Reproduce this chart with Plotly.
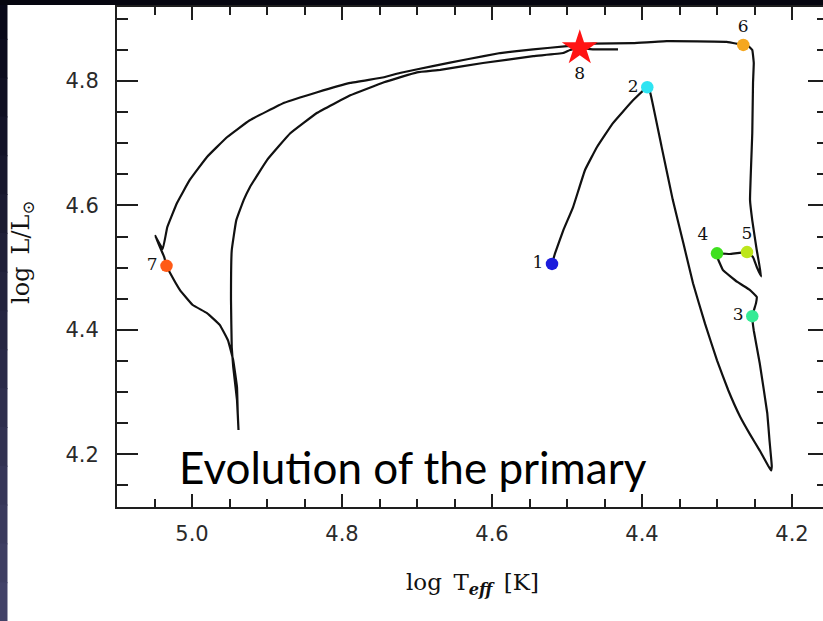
import plotly.graph_objects as go

# ---------------- data ----------------
track_logT = [
    4.520, 4.516, 4.505, 4.492, 4.476, 4.460, 4.439, 4.412, 4.393,
    4.389, 4.374, 4.359, 4.345, 4.332, 4.316, 4.300, 4.285, 4.269, 4.256, 4.243, 4.232, 4.228,
    4.227, 4.230, 4.233, 4.243, 4.251, 4.253,
    4.248, 4.247, 4.256, 4.273, 4.292, 4.299, 4.300,
    4.283, 4.260,
    4.252, 4.247, 4.241,
    4.247, 4.253, 4.256, 4.253, 4.252, 4.251, 4.253, 4.260, 4.265,
    4.287, 4.367, 4.412, 4.465, 4.500, 4.545, 4.589, 4.633, 4.679, 4.723,
    4.744, 4.789, 4.833, 4.877, 4.923, 4.953, 4.980, 5.003, 5.020, 5.033,
    5.039, 5.049, 5.037, 5.034,
    5.029, 5.016, 4.999, 4.980, 4.963, 4.952, 4.945, 4.940, 4.939, 4.938,
    4.940, 4.945, 4.947, 4.948, 4.947, 4.941, 4.931, 4.923,
    4.900, 4.869, 4.833, 4.789, 4.744, 4.700, 4.669, 4.612, 4.545, 4.505,
    4.496, 4.483, 4.465, 4.432,
]
track_logL = [
    4.506, 4.523, 4.560, 4.597, 4.657, 4.694, 4.732, 4.769, 4.790,
    4.781, 4.695, 4.609, 4.540, 4.475, 4.410, 4.351, 4.303, 4.260, 4.232, 4.206, 4.182, 4.174,
    4.181, 4.222, 4.266, 4.346, 4.399, 4.422,
    4.443, 4.453, 4.464, 4.477, 4.496, 4.515, 4.523,
    4.522, 4.525,
    4.517, 4.501, 4.486,
    4.528, 4.576, 4.609, 4.716, 4.797, 4.829, 4.850, 4.858, 4.858,
    4.863, 4.864, 4.861, 4.860, 4.856, 4.851, 4.845, 4.835, 4.824, 4.813,
    4.806, 4.797, 4.782, 4.765, 4.737, 4.710, 4.678, 4.641, 4.604, 4.565,
    4.530, 4.551, 4.517, 4.503,
    4.491, 4.464, 4.440, 4.427, 4.408, 4.383, 4.351, 4.308, 4.266, 4.239,
    4.287, 4.340, 4.372, 4.448, 4.528, 4.576, 4.609, 4.629,
    4.673, 4.716, 4.749, 4.777, 4.798, 4.814, 4.818, 4.829, 4.840, 4.845,
    4.850, 4.853, 4.851, 4.851,
]

point_labels = ["1", "2", "3", "4", "5", "6", "7"]
point_logT = [4.520, 4.393, 4.253, 4.300, 4.260, 4.265, 5.034]
point_logL = [4.506, 4.790, 4.422, 4.523, 4.525, 4.858, 4.503]
point_colors = ["#1c1cdc", "#2ee4f2", "#35eb95", "#3fe01f", "#bde61c", "#f5a71f", "#ff5a16"]
point_label_pos = ["middle left", "middle left", "middle left", "top left",
                   "top center", "top center", "middle left"]

star_label = ["8"]
star_logT = [4.483]
star_logL = [4.853]

x_range = [5.1, 4.1587]
y_range = [4.1153, 4.919]
x_tickvals = [5.0, 4.8, 4.6, 4.4, 4.2]
x_ticktext = ["5.0", "4.8", "4.6", "4.4", "4.2"]
y_tickvals = [4.2, 4.4, 4.6, 4.8]
y_ticktext = ["4.2", "4.4", "4.6", "4.8"]

# ---------------- figure ----------------
W, H = 823, 621
L, R, T, B = 117, 0, 7, 114
pw, ph = W - L - R, H - T - B

def px2paper_x(px):
    return (px - L) / pw

def py2paper_y(py):
    return (H - B - py) / ph

AX = "#1e1e1e"
fig = go.Figure()

fig.add_trace(go.Scatter(
    x=track_logT, y=track_logL, mode="lines",
    line=dict(color="#111111", width=2.2, shape="spline", smoothing=0.25),
    hoverinfo="skip", showlegend=False))

fig.add_trace(go.Scatter(
    x=point_logT, y=point_logL, mode="markers+text",
    marker=dict(size=12.5, color=point_colors, line=dict(width=0)),
    text=point_labels, textposition=point_label_pos,
    textfont=dict(family="DejaVu Serif", size=17, color="#111111"),
    hoverinfo="skip", showlegend=False))

fig.add_trace(go.Scatter(
    x=star_logT, y=star_logL, mode="markers+text",
    marker=dict(symbol="star", size=27, color="#ff1414", line=dict(width=0)),
    text=star_label, textposition="bottom center",
    textfont=dict(family="DejaVu Serif", size=17, color="#111111"),
    hoverinfo="skip", showlegend=False))

# empty trace to carry the right-hand tick axis
fig.add_trace(go.Scatter(x=[], y=[], yaxis="y2", showlegend=False, hoverinfo="skip"))

tickfont = dict(family="DejaVu Sans", size=21, color="#2a2a2a")

fig.update_layout(
    width=W, height=H,
    margin=dict(l=L, r=R, t=T, b=B, pad=0),
    paper_bgcolor="white", plot_bgcolor="white",
    xaxis=dict(range=x_range, showgrid=False, zeroline=False,
               showline=True, linecolor=AX, linewidth=2, mirror="ticks",
               ticks="inside", ticklen=13, tickwidth=2, tickcolor=AX,
               tickvals=x_tickvals, ticktext=x_ticktext,
               minor=dict(dtick=0.05, tick0=5.0, ticks="inside", ticklen=8,
                          tickwidth=2, tickcolor=AX, showgrid=False),
               tickfont=tickfont, ticklabelstandoff=7),
    yaxis=dict(range=y_range, showgrid=False, zeroline=False,
               showline=True, linecolor=AX, linewidth=2, mirror=False,
               ticks="inside", ticklen=21, tickwidth=2, tickcolor=AX,
               tickvals=y_tickvals, ticktext=y_ticktext,
               minor=dict(dtick=0.05, tick0=4.2, ticks="inside", ticklen=11,
                          tickwidth=2, tickcolor=AX, showgrid=False),
               tickfont=tickfont, ticklabelstandoff=12),
    yaxis2=dict(range=y_range, overlaying="y", side="right", showgrid=False,
                zeroline=False, showline=False, showticklabels=False,
                ticks="inside", ticklen=15, tickwidth=2, tickcolor=AX,
                tickvals=y_tickvals,
                minor=dict(dtick=0.05, tick0=4.2, ticks="inside", ticklen=6,
                           tickwidth=2, tickcolor=AX, showgrid=False)),
)

# slide background edges (dark strips on left and top)
nb = 16
for i in range(nb):
    t = i / (nb - 1)
    r = int(8 + t * (66 - 8)); g = int(8 + t * (66 - 8)); b = int(24 + t * (104 - 24))
    y0 = i * H / nb
    y1 = (i + 1) * H / nb + 1
    fig.add_shape(type="rect", xref="paper", yref="paper",
                  x0=px2paper_x(0), x1=px2paper_x(7.5),
                  y0=py2paper_y(y1), y1=py2paper_y(y0),
                  fillcolor=f"rgb({r},{g},{b})", line=dict(width=0), layer="above")
fig.add_shape(type="rect", xref="paper", yref="paper",
              x0=px2paper_x(0), x1=px2paper_x(W),
              y0=py2paper_y(5), y1=py2paper_y(0),
              fillcolor="#060610", line=dict(width=0), layer="above")

# texts
fig.add_annotation(xref="paper", yref="paper", x=px2paper_x(22), y=py2paper_y(252),
                   text="log\u2002L/L<sub>\u2299</sub>", showarrow=False, textangle=-90,
                   font=dict(family="DejaVu Serif", size=24, color="#111111"),
                   xanchor="center", yanchor="middle")
fig.add_annotation(xref="paper", yref="paper", x=px2paper_x(472), y=py2paper_y(584),
                   text="log\u2002T<sub><b><i>eff</i></b></sub>\u2002[K]", showarrow=False,
                   font=dict(family="DejaVu Serif", size=23, color="#111111"),
                   xanchor="center", yanchor="middle")
fig.add_annotation(xref="paper", yref="paper", x=px2paper_x(177), y=py2paper_y(467),
                   text="Evolution of the primary", showarrow=False,
                   font=dict(family="Lato", size=44, color="#000000"),
                   xanchor="left", yanchor="middle")

fig.write_html("out.html")
